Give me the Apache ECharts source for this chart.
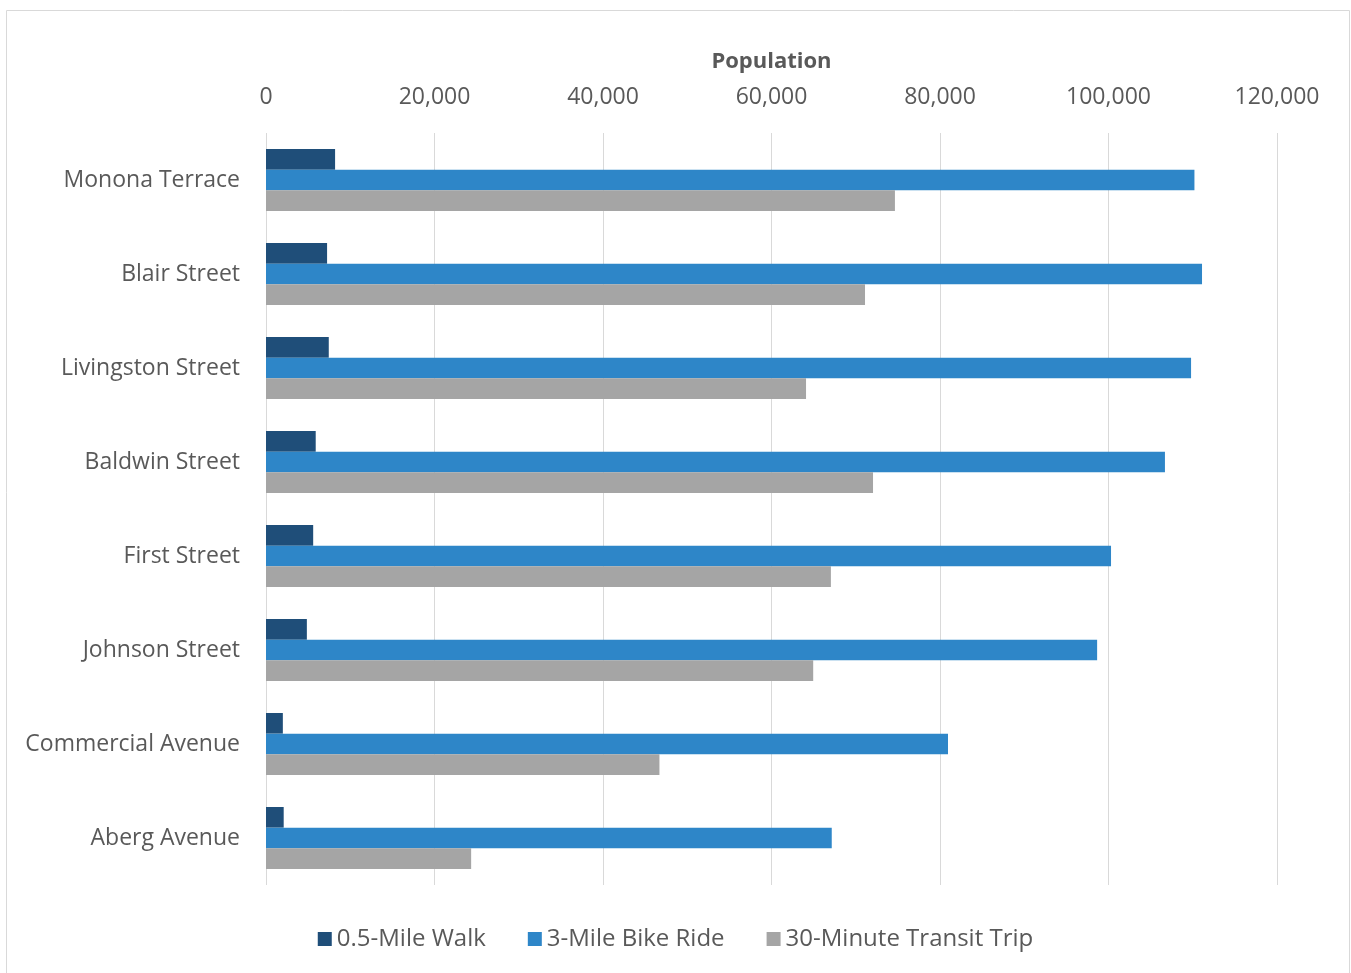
<!DOCTYPE html>
<html><head><meta charset="utf-8">
<script src="https://cdn.jsdelivr.net/npm/echarts@6/dist/echarts.min.js"></script>
<style>html,body{margin:0;padding:0;background:#fff}#c{width:1351px;height:973px}</style>
</head><body><div id="c"></div>
<script>
const categories = ["Monona Terrace","Blair Street","Livingston Street","Baldwin Street","First Street","Johnson Street","Commercial Avenue","Aberg Avenue"];
const seriesNames = ["0.5-Mile Walk","3-Mile Bike Ride","30-Minute Transit Trip"];
const walk = [8200,7250,7450,5900,5600,4850,2000,2100];
const bike = [110200,111100,109800,106700,100300,98650,80950,67150];
const transit = [74650,71100,64100,72050,67050,64950,46700,24350];
const colors = ["#1F4E79","#2E86C8","#A5A5A5"];
const font = "'Open Sans', sans-serif";
const chart = echarts.init(document.getElementById('c'));
const mk = (name, data, i) => ({
  name, type:'bar', data, barGap:'0%', barCategoryGap:'34%',
  itemStyle:{color:colors[i]}, animation:false
});
chart.setOption({
  animation:false,
  graphic:[{type:'rect', shape:{x:6.5,y:10.5,width:1343,height:975}, style:{fill:'none',stroke:'#D9D9D9',lineWidth:1}}],
  grid:{left:266, right:74, top:133, bottom:88, containLabel:false},
  legend:{top:922, left:'center', itemWidth:14, itemHeight:14, itemGap:42, icon:'rect',
    textStyle:{fontFamily:font, fontSize:24, color:'#595959', padding:[0,0,0,0]}, data:seriesNames},
  xAxis:{type:'value', position:'top', min:0, max:120000, interval:20000,
    name:'Population', nameLocation:'middle', nameGap:71,
    nameTextStyle:{fontFamily:font, fontSize:22, fontWeight:'bold', color:'#595959', verticalAlign:'middle', lineHeight:26},
    axisLine:{show:false}, axisTick:{show:false},
    axisLabel:{fontFamily:font, fontSize:23, color:'#595959', margin:24,
      formatter:v=>v.toLocaleString('en-US')},
    splitLine:{lineStyle:{color:'#D9D9D9', width:1}}},
  yAxis:{type:'category', inverse:true, data:categories,
    axisLine:{show:false}, axisTick:{show:false},
    axisLabel:{fontFamily:font, fontSize:23, color:'#595959', margin:26}},
  series:[mk(seriesNames[0],walk,0), mk(seriesNames[1],bike,1), mk(seriesNames[2],transit,2)]
});
</script></body></html>
